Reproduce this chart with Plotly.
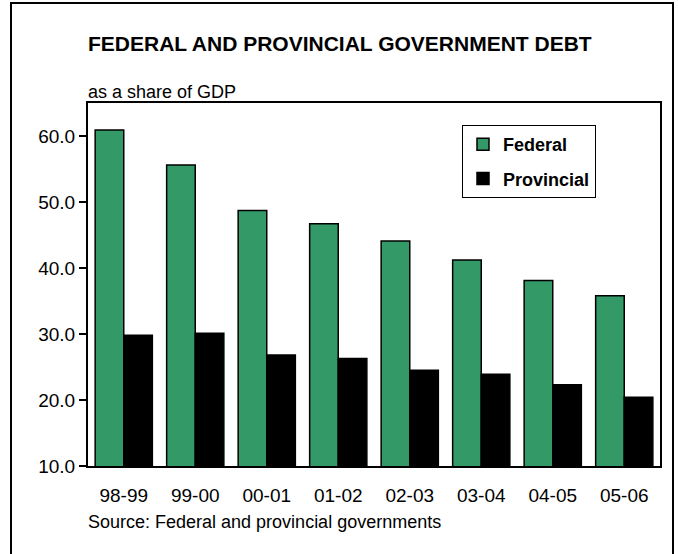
import plotly.graph_objects as go

years = ["98-99", "99-00", "00-01", "01-02", "02-03", "03-04", "04-05", "05-06"]
federal = [60.9, 55.6, 48.7, 46.7, 44.1, 41.2, 38.1, 35.8]
provincial = [29.8, 30.1, 26.8, 26.3, 24.5, 23.9, 22.3, 20.4]
y_ticks = [10, 20, 30, 40, 50, 60]

W, H = 678, 554
L, R, T, B = 88, 660, 103, 466

def px(x):
    return (x - L) / (R - L)

def py(y):
    return (B - y) / (B - T)

fig = go.Figure()
fig.add_trace(go.Bar(name="Federal", x=years, y=federal,
                     marker=dict(color="#339966", line=dict(color="black", width=1.5)),
                     legendgroup="a"))
fig.add_trace(go.Bar(name="Provincial", x=years, y=provincial,
                     marker=dict(color="black", line=dict(color="black", width=1.5)),
                     legendgroup="b"))

font = "Liberation Sans, Arial, sans-serif"
fig.update_layout(
    width=W, height=H,
    margin=dict(l=L, r=W - R, t=T, b=H - B, pad=0),
    paper_bgcolor="white", plot_bgcolor="white",
    barmode="group", bargap=0.2, bargroupgap=0,
    font=dict(family=font, size=18, color="black"),
    showlegend=True,
    legend=dict(x=px(462), y=py(125), xanchor="left", yanchor="top",
                bordercolor="black", borderwidth=1, bgcolor="white",
                font=dict(size=18, family=font, weight="bold"),
                traceorder="grouped", tracegroupgap=8),
    xaxis=dict(type="category", showline=True, linecolor="black", linewidth=2, mirror=True,
               ticks="", tickfont=dict(size=19), ticklabelstandoff=11),
    yaxis=dict(range=[10, 65], tickvals=y_ticks, tickformat=".1f",
               showline=True, linecolor="black", linewidth=2, mirror=True,
               ticks="outside", ticklen=7, tickwidth=2, tickcolor="black",
               showgrid=False, zeroline=False, tickfont=dict(size=19)),
)

fig.add_annotation(text="<b>FEDERAL AND PROVINCIAL GOVERNMENT DEBT</b>",
                   xref="paper", yref="paper", x=px(86), y=py(43),
                   xanchor="left", yanchor="middle", showarrow=False,
                   font=dict(size=21, family=font))
fig.add_annotation(text="as a share of GDP",
                   xref="paper", yref="paper", x=px(86), y=py(92),
                   xanchor="left", yanchor="middle", showarrow=False,
                   font=dict(size=18, family=font))
fig.add_annotation(text="Source: Federal and provincial governments",
                   xref="paper", yref="paper", x=px(86), y=py(522),
                   xanchor="left", yanchor="middle", showarrow=False,
                   font=dict(size=18, family=font))

fig.add_shape(type="rect", xref="paper", yref="paper",
              x0=px(11), x1=px(673), y0=py(558), y1=py(3),
              line=dict(color="black", width=2), fillcolor="rgba(0,0,0,0)", layer="above")

fig.write_html("out.html")
